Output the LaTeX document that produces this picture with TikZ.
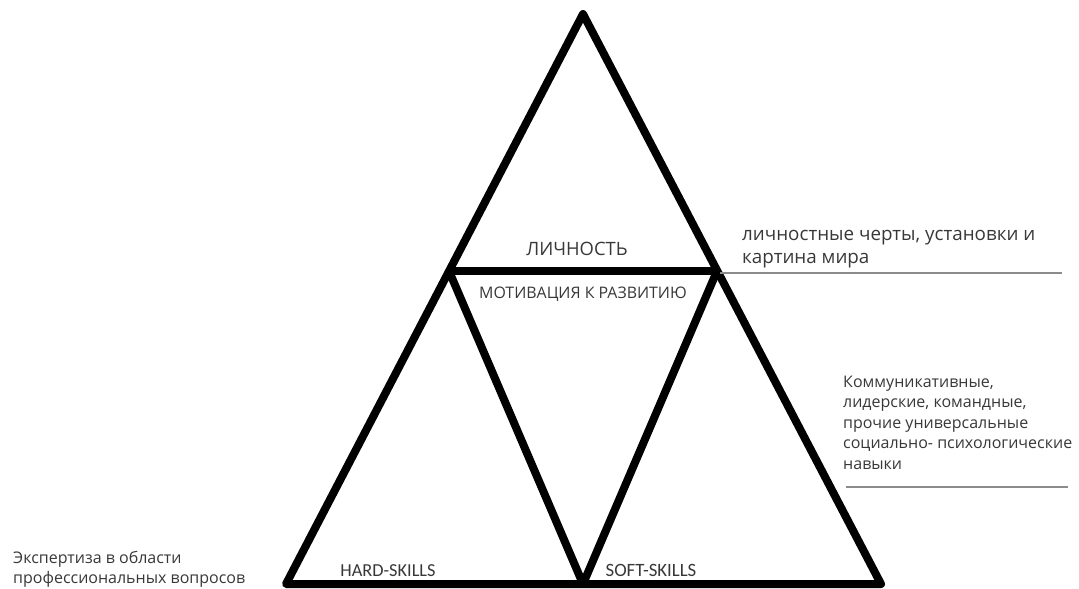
\documentclass[tikz,border=0pt]{standalone}
\usepackage{fontspec}
\setmainfont{Open Sans}
\newfontfamily\calib{Carlito}
\definecolor{txt}{HTML}{383838}
\definecolor{rule}{HTML}{8C8C8C}
\begin{document}
\begin{tikzpicture}[x=1pt,y=-1pt,
  thick line/.style={line width=8pt,line join=round,line cap=butt,black},
  rule line/.style={line width=1.8pt,rule},
  lbl/.style={text=txt,inner sep=0pt,anchor=base},
  side/.style={text=txt,inner sep=0pt,align=left,anchor=base west}
]
\useasboundingbox (0,0) rectangle (1079,589);
% vertices
\coordinate (A) at (583,14);
\coordinate (BL) at (286,584);
\coordinate (BR) at (881,584);
\coordinate (ML) at (449,271);
\coordinate (MR) at (717,271);
\coordinate (BM) at (583,584);
\draw[thick line] (A) -- (BR) -- (BL) -- cycle;
\draw[thick line] (ML) -- (MR);
\draw[thick line] (ML) -- (BM) -- (MR);
% rules
\coordinate (r1a) at (720,273);
\coordinate (r1b) at (1062,273);
\coordinate (r2a) at (846,487);
\coordinate (r2b) at (1068,487);
\draw[rule line] (r1a) -- (r1b);
\draw[rule line] (r2a) -- (r2b);
% labels
\node[lbl,font=\fontsize{18.4}{20}\selectfont] (lich) at (577,255) {ЛИЧНОСТЬ};
\node[lbl,font=\fontsize{15.9}{18}\selectfont] (motiv) at (583,298) {МОТИВАЦИЯ К РАЗВИТИЮ};
\node[lbl,font=\calib\fontsize{18.3}{20}\selectfont] (hard) at (388,576) {HARD-SKILLS};
\node[lbl,font=\calib\fontsize{18.8}{20}\selectfont] (soft) at (651,576) {SOFT-SKILLS};
% side texts (base anchor = last line baseline)
\node[side,font=\fontsize{18.8}{23}\selectfont] (t1) at (742,263) {личностные черты, установки и\\картина мира};
\node[side,font=\fontsize{16}{20.5}\selectfont] (t2) at (843,469) {Коммуникативные,\\лидерские, командные,\\прочие универсальные\\социально- психологические\\навыки};
\node[side,font=\fontsize{16}{20}\selectfont] (t3) at (13,583) {Экспертиза в области\\профессиональных вопросов};
\end{tikzpicture}
\end{document}
